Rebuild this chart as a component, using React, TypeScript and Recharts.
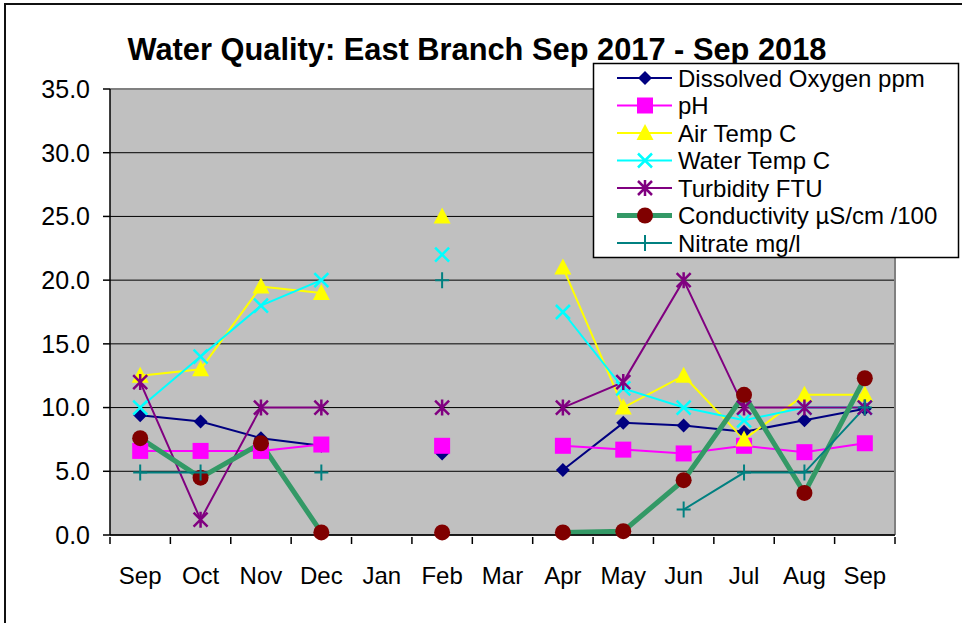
import { CartesianGrid, Line, LineChart, ReferenceLine, XAxis, YAxis } from "recharts";

const months = ["Sep", "Oct", "Nov", "Dec", "Jan", "Feb", "Mar", "Apr", "May", "Jun", "Jul", "Aug", "Sep"];
const dissolvedOxygen = [9.4, 8.9, 7.6, 7.0, null, 6.4, null, 5.1, 8.8, 8.6, 8.1, 9.0, 9.9];
const ph = [6.6, 6.6, 6.6, 7.1, null, 7.0, null, 7.0, 6.7, 6.4, 7.0, 6.5, 7.2];
const airTemp = [12.5, 13.0, 19.5, 19.0, null, 25.0, null, 21.0, 10.0, 12.5, 7.5, 11.0, 11.0];
const waterTemp = [10.0, 14.0, 18.0, 20.0, null, 22.0, null, 17.5, 11.5, 10.0, 9.0, 10.0, 10.0];
const turbidity = [12.0, 1.2, 10.0, 10.0, null, 10.0, null, 10.0, 12.0, 20.0, 10.0, 10.0, 10.0];
const conductivity = [7.6, 4.5, 7.2, 0.2, null, 0.2, null, 0.2, 0.3, 4.3, 11.0, 3.3, 12.3];
const nitrate = [4.9, 4.9, null, 4.9, null, 20.0, null, null, null, 2.0, 4.9, 4.9, 10.0];
const yTicks = [0, 5, 10, 15, 20, 25, 30, 35];

type Shape = "diamond" | "square" | "triangle" | "cross" | "star" | "circle" | "plus";

const series: { key: string; name: string; values: (number | null)[]; line: string; marker: string; shape: Shape; width: number }[] = [
  { key: "do", name: "Dissolved Oxygen ppm", values: dissolvedOxygen, line: "#000080", marker: "#000080", shape: "diamond", width: 2 },
  { key: "ph", name: "pH", values: ph, line: "#FF00FF", marker: "#FF00FF", shape: "square", width: 2 },
  { key: "air", name: "Air Temp C", values: airTemp, line: "#FFFF00", marker: "#FFFF00", shape: "triangle", width: 2 },
  { key: "water", name: "Water Temp C", values: waterTemp, line: "#00FFFF", marker: "#00FFFF", shape: "cross", width: 2 },
  { key: "turb", name: "Turbidity FTU", values: turbidity, line: "#800080", marker: "#800080", shape: "star", width: 2 },
  { key: "cond", name: "Conductivity µS/cm /100", values: conductivity, line: "#339966", marker: "#800000", shape: "circle", width: 5 },
  { key: "nitrate", name: "Nitrate mg/l", values: nitrate, line: "#008080", marker: "#008080", shape: "plus", width: 2 },
];

const data = months.map((m, i) => {
  const row: Record<string, number | string | null> = { i, month: m };
  series.forEach((s) => (row[s.key] = s.values[i]));
  return row;
});

const xTicks: number[] = [];
for (let k = 0; k <= months.length * 2; k++) xTicks.push(k / 2 - 0.5);

const font = "'Liberation Sans', Arial, sans-serif";

function Marker({ shape, x, y, color }: { shape: Shape; x: number; y: number; color: string }) {
  switch (shape) {
    case "diamond":
      return <polygon points={`${x},${y - 7} ${x + 7},${y} ${x},${y + 7} ${x - 7},${y}`} fill={color} />;
    case "square":
      return <rect x={x - 8} y={y - 8} width={16} height={16} fill={color} />;
    case "triangle":
      return <polygon points={`${x},${y - 9} ${x + 8.5},${y + 7} ${x - 8.5},${y + 7}`} fill={color} />;
    case "cross":
      return <path d={`M${x - 7},${y - 7}L${x + 7},${y + 7}M${x + 7},${y - 7}L${x - 7},${y + 7}`} stroke={color} strokeWidth={2.5} />;
    case "star":
      return (
        <path
          d={`M${x - 7},${y - 7}L${x + 7},${y + 7}M${x + 7},${y - 7}L${x - 7},${y + 7}M${x},${y - 8}V${y + 8}`}
          stroke={color}
          strokeWidth={2.5}
        />
      );
    case "circle":
      return <circle cx={x} cy={y} r={8} fill={color} />;
    case "plus":
      return <path d={`M${x - 7},${y}H${x + 7}M${x},${y - 8}V${y + 8}`} stroke={color} strokeWidth={2} />;
  }
}

function XTick(props: any) {
  const { x, y, payload } = props;
  const v = payload.value as number;
  if (Number.isInteger(v)) {
    return (
      <text x={x} y={y + 47} textAnchor="middle" fontSize={24} fontFamily={font} fill="#000">
        {months[v]}
      </text>
    );
  }
  return <line x1={x} x2={x} y1={y} y2={y + 7} stroke="#000" strokeWidth={1.5} />;
}

export default function App() {
  return (
    <div style={{ position: "absolute", left: 0, top: 0, width: 962, height: 623, overflow: "hidden", background: "#fff" }}>
      <div style={{ position: "absolute", left: 4, top: 3, width: 1000, height: 700, border: "2px solid #111" }} />
      <LineChart width={962} height={623} data={data} margin={{ top: 89, right: 67, bottom: 0, left: 0 }}>
        <CartesianGrid vertical={false} stroke="#000" fill="#C0C0C0" fillOpacity={1} />
        <XAxis
          type="number"
          dataKey="i"
          domain={[-0.5, 12.5]}
          ticks={xTicks}
          interval={0}
          tick={<XTick />}
          tickLine={false}
          tickSize={0}
          height={88}
          axisLine={{ stroke: "#000", strokeWidth: 1.5 }}
        />
        <YAxis
          type="number"
          domain={[0, 35]}
          ticks={yTicks}
          interval={0}
          width={110}
          tickSize={7}
          tickMargin={13}
          tickFormatter={(v: number) => v.toFixed(1)}
          tick={{ fill: "#000", fontSize: 25, fontFamily: font }}
          tickLine={{ stroke: "#000", strokeWidth: 1.5 }}
          axisLine={{ stroke: "#000", strokeWidth: 1.5 }}
        />
        <ReferenceLine x={12.5} stroke="#808080" strokeWidth={2} />
        <ReferenceLine y={35} stroke="#808080" strokeWidth={2} />
        {series.map((s) => (
          <Line
            key={s.key}
            dataKey={s.key}
            name={s.name}
            type="linear"
            stroke={s.line}
            strokeWidth={s.width}
            isAnimationActive={false}
            activeDot={false}
            dot={(p: any) =>
              p.value == null || p.cx == null ? (
                <g key={`${s.key}-${p.index}`} />
              ) : (
                <g key={`${s.key}-${p.index}`}>
                  <Marker shape={s.shape} x={p.cx} y={p.cy} color={s.marker} />
                </g>
              )
            }
          />
        ))}
      </LineChart>
      <svg width={962} height={623} style={{ position: "absolute", left: 0, top: 0, pointerEvents: "none" }}>
        <text x={477} y={60} textAnchor="middle" fontSize={30.8} fontWeight="bold" fontFamily={font} fill="#000">
          Water Quality: East Branch Sep 2017 - Sep 2018
        </text>
        <rect x={593.5} y={63.5} width={365} height={194} fill="#fff" stroke="#000" strokeWidth={1.5} />
        {series.map((s, k) => {
          const cy = 78 + k * 27.5;
          return (
            <g key={s.key}>
              <line x1={617} x2={672} y1={cy} y2={cy} stroke={s.line} strokeWidth={s.width} />
              <Marker shape={s.shape} x={645} y={cy} color={s.marker} />
              <text x={678} y={cy + 8.5} fontSize={24} fontFamily={font} fill="#000">
                {s.name}
              </text>
            </g>
          );
        })}
      </svg>
    </div>
  );
}
